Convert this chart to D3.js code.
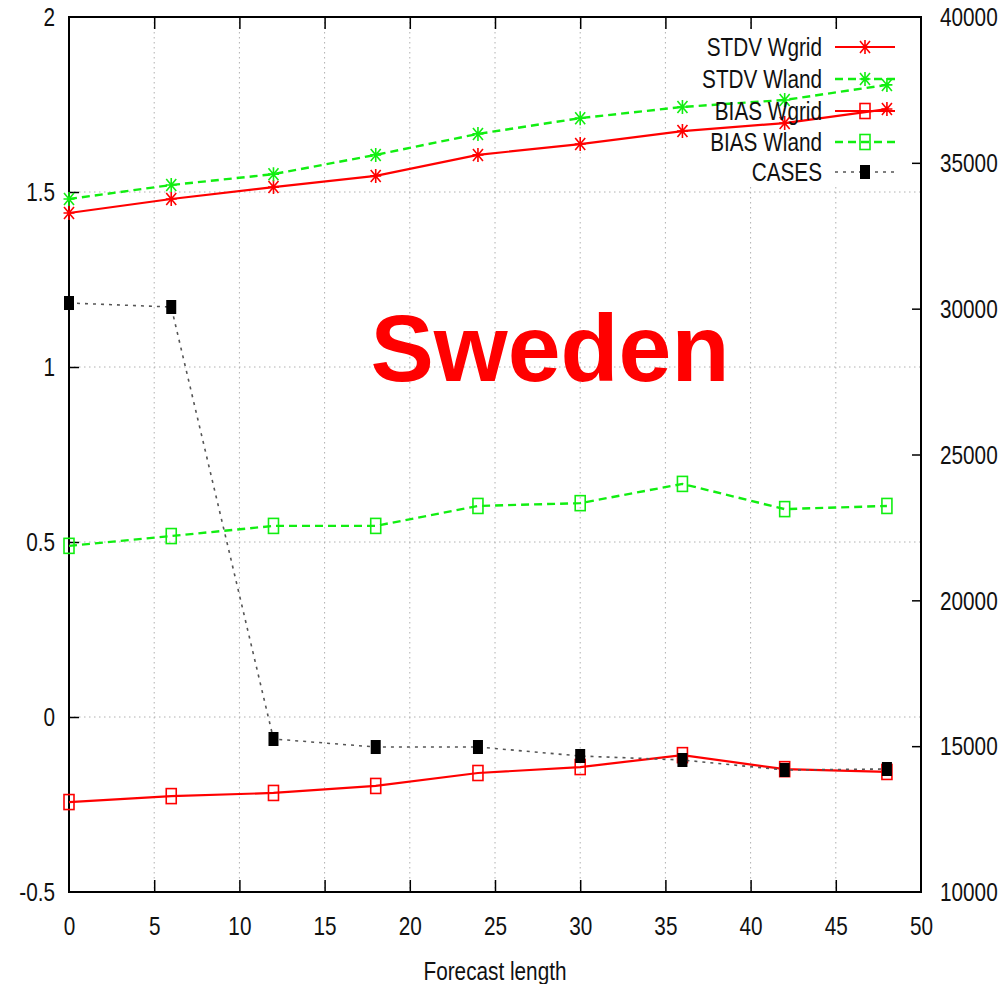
<!DOCTYPE html>
<html>
<head>
<meta charset="utf-8">
<script src="https://cdn.jsdelivr.net/npm/d3@7"></script>
<style>
  html, body { margin: 0; padding: 0; background: #fff; }
  svg { display: block; }
  text { font-family: "Liberation Sans", Arial, sans-serif; }
</style>
</head>
<body>
<svg id="chart" width="1004" height="984"></svg>
<script>
// ---- data ----
const forecastLength = [0, 6, 12, 18, 24, 30, 36, 42, 48];
const stdvWgrid = [1.44, 1.48, 1.514, 1.546, 1.606, 1.637, 1.674, 1.697, 1.737];
const stdvWland = [1.48, 1.52, 1.551, 1.606, 1.666, 1.711, 1.743, 1.763, 1.806];
const biasWgrid = [-0.243, -0.226, -0.217, -0.197, -0.16, -0.143, -0.109, -0.149, -0.157];
const biasWland = [0.489, 0.517, 0.546, 0.546, 0.603, 0.611, 0.666, 0.594, 0.603];
const cases = [30194, 30057, 15246, 14971, 14971, 14663, 14526, 14183, 14217];
const xTicks = [0, 5, 10, 15, 20, 25, 30, 35, 40, 45, 50];
const yTicks = [-0.5, 0, 0.5, 1, 1.5, 2];
const y2Ticks = [10000, 15000, 20000, 25000, 30000, 35000, 40000];
const seriesNames = ["STDV Wgrid", "STDV Wland", "BIAS Wgrid", "BIAS Wland", "CASES"];
const xLabel = "Forecast length";
const title = "Sweden";

// ---- layout ----
const L = 69, R = 921, T = 17, B = 892;
const SX = 0.83; // horizontal compression of text
const FS = 25;
const RED = "#ff0000", GREEN = "#11ee11";

const svg = d3.select("#chart");
const x = d3.scaleLinear().domain([0, 50]).range([L, R]);
const y = d3.scaleLinear().domain([-0.5, 2]).range([B, T]);
const y2 = d3.scaleLinear().domain([10000, 40000]).range([B, T]);

// grid
const grid = svg.append("g").attr("stroke", "#b0b0b0").attr("stroke-width", 1)
  .attr("stroke-dasharray", "1.5,3.5");
grid.selectAll("line.v").data(xTicks.filter(d => d > 0 && d < 50)).join("line")
  .attr("x1", d => x(d)).attr("x2", d => x(d)).attr("y1", T).attr("y2", B);
grid.selectAll("line.h").data(yTicks.filter(d => d > -0.5 && d < 2)).join("line")
  .attr("x1", L).attr("x2", R).attr("y1", d => y(d)).attr("y2", d => y(d));

// key area clears grid
svg.append("rect").attr("x", 700).attr("y", 30).attr("width", 205).attr("height", 156).attr("fill", "#fff");

// title
svg.append("text").attr("x", 550).attr("y", 381).attr("text-anchor", "middle")
  .attr("font-size", 95).attr("font-weight", "bold").attr("fill", RED).text(title);

// axes
const fmt = d => String(d);
const axB = svg.append("g").attr("transform", `translate(0,${B})`)
  .call(d3.axisBottom(x).tickValues(xTicks).tickSizeInner(-12).tickSizeOuter(0).tickFormat(fmt));
const axT = svg.append("g").attr("transform", `translate(0,${T})`)
  .call(d3.axisTop(x).tickValues(xTicks).tickSizeInner(-12).tickSizeOuter(0).tickFormat(""));
const axL = svg.append("g").attr("transform", `translate(${L},0)`)
  .call(d3.axisLeft(y).tickValues(yTicks).tickSizeInner(-10).tickSizeOuter(0).tickFormat(fmt));
const axR = svg.append("g").attr("transform", `translate(${R},0)`)
  .call(d3.axisRight(y2).tickValues(y2Ticks).tickSizeInner(-9).tickSizeOuter(0).tickFormat(fmt));

[axB, axT, axL, axR].forEach(a => {
  a.select(".domain").remove();
  a.selectAll(".tick line").attr("stroke", "#000").attr("stroke-width", 1.5);
  a.selectAll(".tick text").attr("font-size", FS).attr("fill", "#111")
    .attr("font-family", "'Liberation Sans', Arial, sans-serif");
});
axB.selectAll(".tick text").attr("y", 43).attr("dy", 0).attr("transform", `scale(${SX},1)`);
axL.selectAll(".tick text").attr("x", -14 / SX).attr("dy", "0.35em").attr("transform", `scale(${SX},1)`);
axR.selectAll(".tick text").attr("x", 19 / SX).attr("dy", "0.35em").attr("transform", `scale(${SX},1)`);
// hide ticks at the corners (frame covers them)
axB.selectAll(".tick").filter(d => d === 0 || d === 50).select("line").remove();
axT.selectAll(".tick").filter(d => d === 0 || d === 50).select("line").remove();
axL.selectAll(".tick").filter(d => d === -0.5 || d === 2).select("line").remove();
axR.selectAll(".tick").filter(d => d === 10000 || d === 40000).select("line").remove();

// frame
svg.append("rect").attr("x", L).attr("y", T).attr("width", R - L).attr("height", B - T)
  .attr("fill", "none").attr("stroke", "#000").attr("stroke-width", 2);

// x label
svg.append("text").attr("transform", `translate(495,980) scale(${SX},1)`)
  .attr("text-anchor", "middle").attr("font-size", FS).attr("fill", "#111").text(xLabel);

// markers
const starPath = "M0,-7L0,7M-5.5,0L5.5,0M-5,-6L5,6M-5,6L5,-6";
function drawMarker(g, type, color, cx, cy) {
  if (type === "star") {
    g.append("path").attr("d", starPath).attr("transform", `translate(${cx},${cy})`)
      .attr("stroke", color).attr("stroke-width", 1.6).attr("fill", "none");
  } else if (type === "open") {
    g.append("rect").attr("x", cx - 5).attr("y", cy - 7.5).attr("width", 10).attr("height", 15)
      .attr("fill", "none").attr("stroke", color).attr("stroke-width", 1.6);
  } else {
    g.append("rect").attr("x", cx - 5).attr("y", cy - 7).attr("width", 10).attr("height", 14)
      .attr("fill", "#000");
  }
}

const series = [
  { name: seriesNames[0], vals: stdvWgrid, scale: y, color: RED, dash: null, w: 2.2, marker: "star" },
  { name: seriesNames[1], vals: stdvWland, scale: y, color: GREEN, dash: "8,5", w: 2.4, marker: "star" },
  { name: seriesNames[2], vals: biasWgrid, scale: y, color: RED, dash: null, w: 2.2, marker: "open" },
  { name: seriesNames[3], vals: biasWland, scale: y, color: GREEN, dash: "8,5", w: 2.4, marker: "open" },
  { name: seriesNames[4], vals: cases, scale: y2, color: "#555", dash: "3,5", w: 1.6, marker: "filled" }
];

const plot = svg.append("g");
series.forEach(s => {
  const pts = forecastLength.map((f, i) => [x(f), s.scale(s.vals[i])]);
  plot.append("path").attr("d", d3.line()(pts)).attr("fill", "none")
    .attr("stroke", s.color).attr("stroke-width", s.w)
    .attr("stroke-dasharray", s.dash);
  const mg = plot.append("g");
  pts.forEach(p => drawMarker(mg, s.marker, s.color, p[0], p[1]));
});

// legend
const legendY = [47, 79, 111, 142, 172];
const leg = svg.append("g");
series.forEach((s, i) => {
  const ly = legendY[i];
  leg.append("text").attr("transform", `translate(822,${ly}) scale(${SX},1)`)
    .attr("text-anchor", "end").attr("dy", "0.35em").attr("font-size", FS).attr("fill", "#111")
    .text(s.name);
  leg.append("line").attr("x1", 835).attr("x2", 895).attr("y1", ly).attr("y2", ly)
    .attr("stroke", s.color).attr("stroke-width", s.w).attr("stroke-dasharray", s.dash);
  drawMarker(leg.append("g"), s.marker, s.color, 865, ly);
});
</script>
</body>
</html>
